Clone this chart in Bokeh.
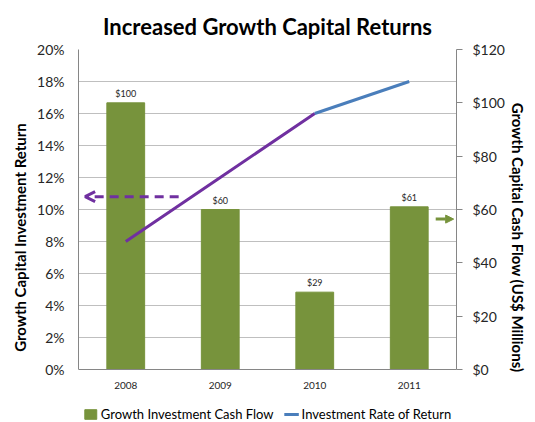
from bokeh.plotting import figure
from bokeh.models import (Range1d, LinearAxis, FactorRange, Arrow, OpenHead, NormalHead,
                          Legend, LegendItem, LabelSet, ColumnDataSource, FixedTicker,
                          PrintfTickFormatter, Span)
from bokeh.core.properties import value
from bokeh.embed import file_html
from bokeh.resources import INLINE

years = ["2008", "2009", "2010", "2011"]
cash_flow = [100, 60, 29, 61]          # US$ millions (right axis)
return_pct = [8, 12, 16, 18]           # percent (left axis)
cash_labels = ["$100", "$60", "$29", "$61"]
pct_ticks = [0, 2, 4, 6, 8, 10, 12, 14, 16, 18, 20]
cash_ticks = [0, 20, 40, 60, 80, 100, 120]
legend_labels = ["Growth Investment Cash Flow", "Investment Rate of Return"]

FONT = "Lato"
GREEN = "#77933C"
PURPLE = "#7030A0"
BLUE = "#4A7EBB"
GRID = "#BFBFBF"
AXIS = "#868686"

# frame extends below the 0 baseline to host the category labels and legend
p = figure(x_range=FactorRange(*years), y_range=Range1d(-3.5, 20),
           frame_width=378, frame_height=376,
           min_border_left=78, min_border_right=79, min_border_top=46, min_border_bottom=0,
           output_backend="svg", toolbar_location=None, tools="")
p.extra_y_ranges = {"cash": Range1d(-21, 120)}

p.title.text = "Increased Growth Capital Returns"
p.title.align = "center"
p.title.text_font = FONT
p.title.text_font_size = "22px"
p.title.text_font_style = "bold"
p.title.text_color = "#000000"
p.title.standoff = 20

src = ColumnDataSource(dict(year=years, cash=cash_flow, lbl=cash_labels,
                            base=[0] * len(years)))
bars = p.vbar(x="year", top="cash", width=0.4, source=src, y_range_name="cash",
              fill_color=GREEN, line_color=GREEN)
p.add_layout(LabelSet(x="year", y="cash", text="lbl", source=src, y_range_name="cash",
                      y_offset=4, text_align="center", text_baseline="bottom",
                      text_font=value(FONT), text_font_size="9px", text_color="#262626"))
# category labels under the baseline
p.add_layout(LabelSet(x="year", y="base", text="year", source=src,
                      y_offset=-16, text_align="center", text_baseline="middle",
                      text_font=value(FONT), text_font_size="10px", text_color="#262626"))
p.add_layout(Span(location=0, dimension="width", line_color=AXIS, line_width=1))

purple = p.line(x=years[:3], y=return_pct[:3], line_color=PURPLE, line_width=3)
blue = p.line(x=years[2:], y=return_pct[2:], line_color=BLUE, line_width=3)

# annotation arrows
p.add_layout(Arrow(end=OpenHead(size=10, line_color=PURPLE, line_width=3),
                   x_start=1.06, y_start=10.8, x_end=0.07, y_end=10.8,
                   line_color=PURPLE, line_width=3, line_dash="9 6"))
p.add_layout(Arrow(end=NormalHead(size=8, fill_color=GREEN, line_color=GREEN),
                   x_start=3.78, y_start=9.4, x_end=3.97, y_end=9.4,
                   line_color=GREEN, line_width=3))

# axes
p.xaxis.visible = False
p.yaxis.ticker = FixedTicker(ticks=pct_ticks)
p.yaxis.formatter = PrintfTickFormatter(format="%d%%")
p.yaxis.axis_label = "Growth Capital Investment Return"
p.yaxis.major_tick_out = 0
p.yaxis.major_tick_in = 0
p.yaxis.minor_tick_line_color = None
p.yaxis.major_label_standoff = 14
p.yaxis.bounds = (0, 20)

ra = LinearAxis(y_range_name="cash", ticker=FixedTicker(ticks=cash_ticks),
                formatter=PrintfTickFormatter(format="$%d"),
                axis_label="Growth Capital Cash Flow (US$ Millions)")
ra.major_tick_out = 6
ra.major_tick_in = 0
ra.minor_tick_line_color = None
ra.major_label_standoff = 10
ra.axis_label_standoff = 1
ra.bounds = (0, 120)
p.add_layout(ra, "right")

for ax in [p.yaxis[0], ra]:
    ax.major_label_text_font_size = "14px"
    ax.axis_label_text_font_size = "15px"
    ax.axis_label_text_font_style = "bold"
    ax.axis_label_text_font = FONT
    ax.axis_label_text_color = "#000000"
    ax.axis_line_color = AXIS
    ax.major_tick_line_color = AXIS
    ax.major_label_text_font = FONT
    ax.major_label_text_color = "#262626"

p.xgrid.visible = False
p.ygrid.grid_line_color = GRID
p.outline_line_color = None

legend = Legend(items=[LegendItem(label=legend_labels[0], renderers=[bars]),
                       LegendItem(label=legend_labels[1], renderers=[blue])],
                orientation="horizontal", location="bottom_center",
                label_text_font=FONT, label_text_font_size="13px", label_text_color="#000000",
                glyph_width=15, glyph_height=12, label_standoff=3, spacing=10,
                border_line_alpha=0, background_fill_alpha=0, padding=1, margin=2)
p.add_layout(legend, "center")

open("out.html", "w").write(file_html(p, INLINE))
